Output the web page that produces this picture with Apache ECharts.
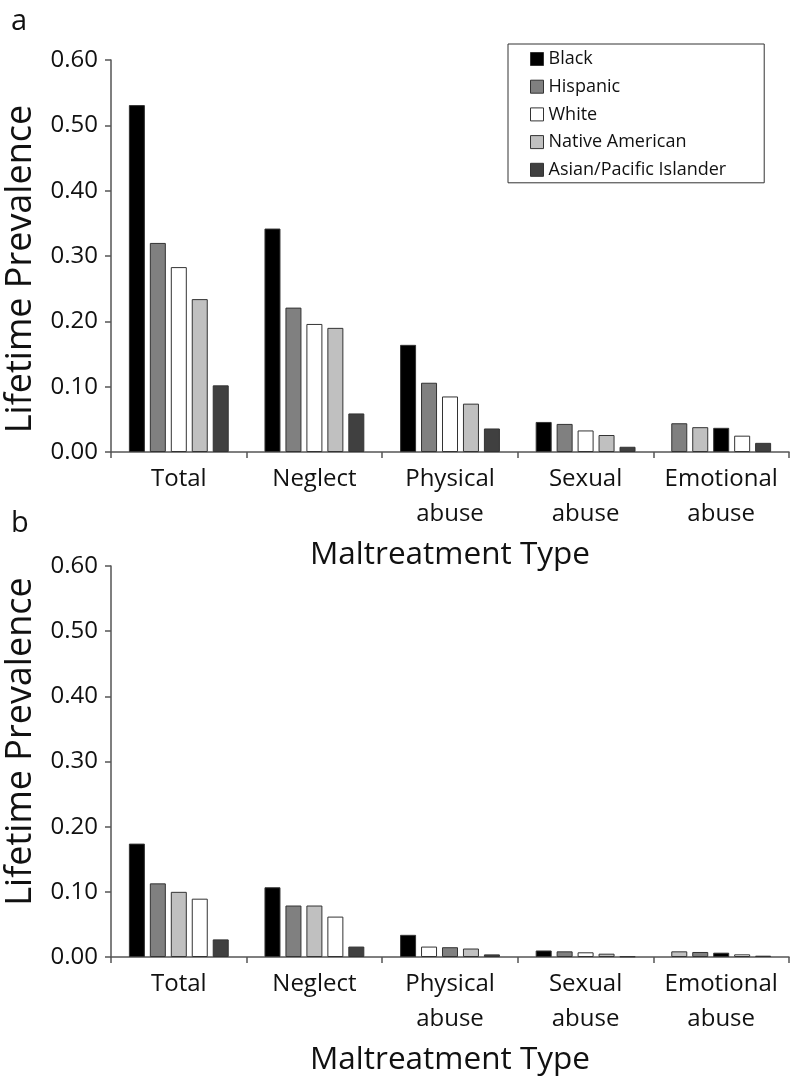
<!DOCTYPE html>
<html>
<head>
<meta charset="utf-8">
<script src="https://cdn.jsdelivr.net/npm/echarts@6/dist/echarts.min.js"></script>
<style>
  html, body { margin: 0; padding: 0; background: #fff; }
  #chart { width: 791px; height: 1085px; }
</style>
</head>
<body>
<div id="chart"></div>
<script>
// ---- data ----
const categories = ['Total', 'Neglect', 'Physical\nabuse', 'Sexual\nabuse', 'Emotional\nabuse'];
const races = ['Black', 'Hispanic', 'White', 'Native American', 'Asian/Pacific Islander'];
const yTicks = [0, 0.1, 0.2, 0.3, 0.4, 0.5, 0.6];

// Panel a
const blackA    = [0.531, 0.342, 0.164, 0.046, 0.037];
const hispanicA = [0.320, 0.221, 0.106, 0.043, 0.044];
const whiteA    = [0.283, 0.196, 0.085, 0.033, 0.025];
const nativeA   = [0.234, 0.190, 0.074, 0.026, 0.038];
const asianA    = [0.102, 0.059, 0.036, 0.008, 0.014];

// Panel b
const blackB    = [0.174, 0.107, 0.034, 0.010, 0.0066];
const hispanicB = [0.113, 0.079, 0.015, 0.0087, 0.0077];
const whiteB    = [0.0895, 0.062, 0.016, 0.0072, 0.0041];
const nativeB   = [0.100, 0.079, 0.013, 0.0051, 0.0087];
const asianB    = [0.027, 0.016, 0.004, 0.001, 0.002];

// ---- styles ----
const raceColors = ['#000000', '#808080', '#ffffff', '#c0c0c0', '#404040'];
const FONT = 'Open Sans';

function rankSeries(vals, axisIdx) {
  // bars inside each group are ordered by value (largest first)
  const orders = categories.map((c, i) =>
    vals.map((v, k) => k).sort((p, q) => vals[q][i] - vals[p][i]));
  const out = [];
  for (let r = 0; r < races.length; r++) {
    out.push({
      type: 'bar',
      name: 'rank' + axisIdx + '_' + r,
      xAxisIndex: axisIdx,
      yAxisIndex: axisIdx,
      barWidth: 16,
      barGap: '31%',
      itemStyle: { borderColor: '#333', borderWidth: 1 },
      data: categories.map((c, i) => {
        const k = orders[i][r];
        return { value: vals[k][i], itemStyle: { color: raceColors[k] } };
      })
    });
  }
  return out;
}

const valsA = [blackA, hispanicA, whiteA, nativeA, asianA];
const valsB = [blackB, hispanicB, whiteB, nativeB, asianB];

function xAxisDef(idx) {
  return {
    type: 'category', gridIndex: idx, data: categories,
    axisLine: { show: true, lineStyle: { color: '#555', width: 1.5 } },
    axisTick: { show: true, length: 6, lineStyle: { color: '#555', width: 1.5 } },
    axisLabel: { color: '#111', fontFamily: FONT, fontSize: 24, lineHeight: 35, margin: 10, interval: 0 },
    name: 'Maltreatment Type', nameLocation: 'middle', nameGap: 87,
    nameTextStyle: { color: '#111', fontFamily: FONT, fontSize: 31.5 }
  };
}
function yAxisDef(idx, pad) {
  return {
    type: 'value', gridIndex: idx, min: 0, max: 0.6, interval: 0.1,
    axisLine: { show: true, lineStyle: { color: '#555', width: 1.5 } },
    axisTick: { show: true, length: 6, lineStyle: { color: '#555', width: 1.5 } },
    splitLine: { show: false },
    axisLabel: { color: '#111', fontFamily: FONT, fontSize: 24, margin: 13,
      formatter: v => v.toFixed(2) },
    name: 'Lifetime Prevalence', nameLocation: 'middle', nameGap: 72,
    nameTextStyle: { color: '#111', fontFamily: FONT, fontSize: 36, padding: pad }
  };
}

const legendSeries = races.map((n, k) => ({
  type: 'line', name: n, xAxisIndex: 0, yAxisIndex: 0, data: [],
  itemStyle: { color: raceColors[k] }, lineStyle: { color: raceColors[k] }
}));

const chart = echarts.init(document.getElementById('chart'), null, { renderer: 'canvas' });
chart.setOption({
  animation: false,
  backgroundColor: '#fff',
  textStyle: { fontFamily: FONT },
  grid: [
    { left: 111, top: 60, right: 2, height: 392, containLabel: false, outerBoundsMode: 'none' },
    { left: 111, top: 566, right: 2, height: 391, containLabel: false, outerBoundsMode: 'none' }
  ],
  xAxis: [xAxisDef(0), xAxisDef(1)],
  yAxis: [yAxisDef(0, [0, 26, 0, 0]), yAxisDef(1, [0, 0, 0, 40])],
  legend: {
    orient: 'vertical', left: 508, top: 44,
    padding: [6, 38, 4, 22],
    borderColor: '#333', borderWidth: 1,
    itemWidth: 13, itemHeight: 13, itemGap: 9.7,
    selectedMode: false,
    textStyle: { color: '#111', fontFamily: FONT, fontSize: 18, lineHeight: 18 },
    data: races.map((n, k) => ({
      name: n, icon: 'rect',
      itemStyle: { color: raceColors[k], borderColor: '#333', borderWidth: 1 }
    }))
  },
  graphic: [
    { type: 'text', left: 11, top: 7, style: { text: 'a', fontFamily: FONT, fontSize: 29, fill: '#111' } },
    { type: 'text', left: 11, top: 509, style: { text: 'b', fontFamily: FONT, fontSize: 29, fill: '#111' } }
  ],
  series: [...rankSeries(valsA, 0), ...rankSeries(valsB, 1), ...legendSeries]
});
</script>
</body>
</html>
